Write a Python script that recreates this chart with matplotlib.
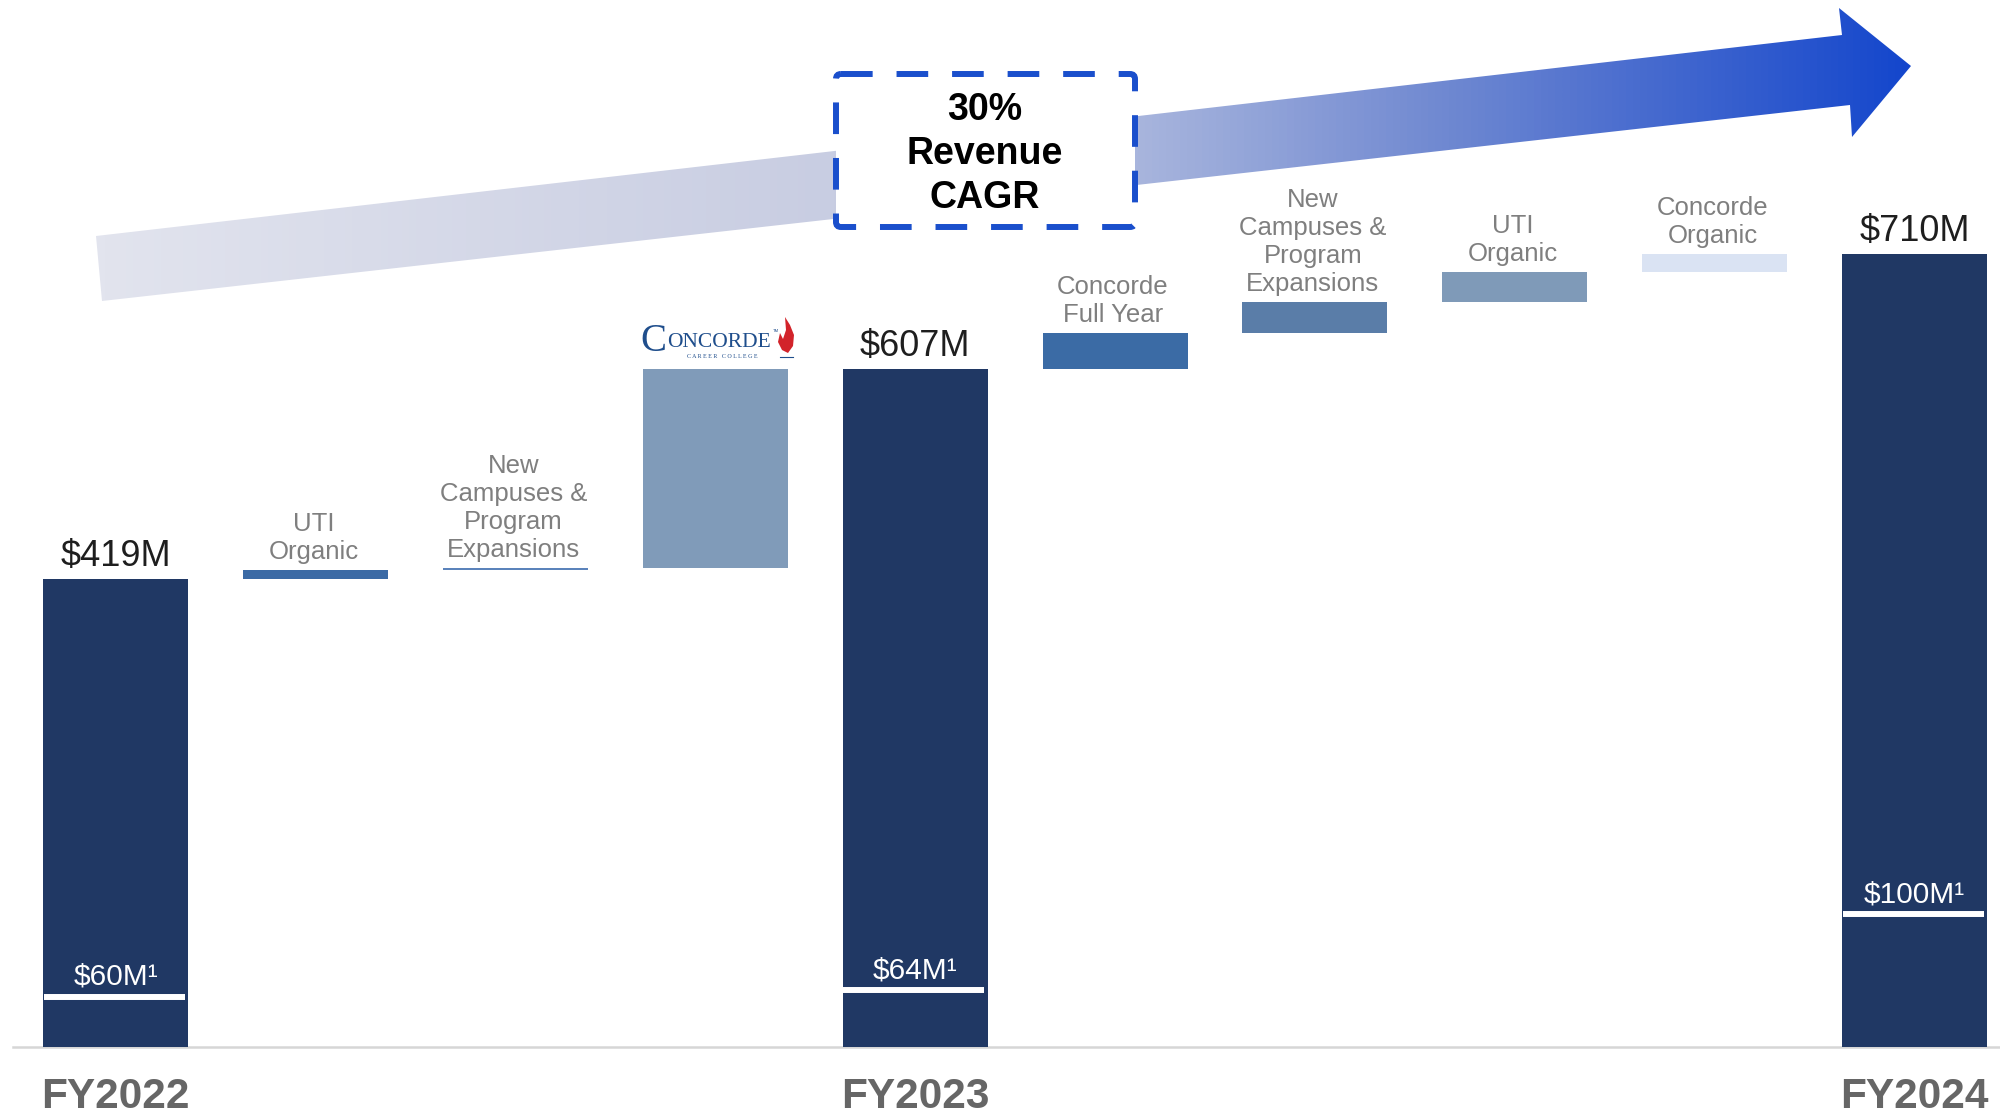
import numpy as np
import matplotlib
matplotlib.use('Agg')
import matplotlib.pyplot as plt
from matplotlib.patches import Polygon, FancyBboxPatch
from matplotlib.colors import LinearSegmentedColormap

plt.rcParams['font.family'] = ['Liberation Sans', 'DejaVu Sans']

# waterfall data ($M)
categories = ['FY2022', 'UTI\nOrganic', 'New\nCampuses &\nProgram\nExpansions', 'Concorde', 'FY2023',
              'Concorde\nFull Year', 'New\nCampuses &\nProgram\nExpansions', 'UTI\nOrganic',
              'Concorde\nOrganic', 'FY2024']
is_total = [True, False, False, False, True, False, False, False, False, True]
values = [419, 8, 2, 178, 607, 32, 28, 27, 16, 710]
bar_colors = ['#203864', '#3b6aa5', '#5b83bb', '#809bb9', '#203864',
              '#3b6ba5', '#5a7da8', '#7f9ab8', '#dae3f3', '#203864']

total_labels = ['$419M', '$607M', '$710M']
sub_labels = ['$60M\u00b9', '$64M\u00b9', '$100M\u00b9']
sub_levels = [45, 51, 119]   # where the white marker sits inside each total bar

# running totals -> bottoms / heights
bottoms, heights = [], []
run = 0
for v, tot in zip(values, is_total):
    if tot:
        bottoms.append(0)
        heights.append(v)
        run = v
    else:
        bottoms.append(run)
        heights.append(v)
        run += v
tops = [b + h for b, h in zip(bottoms, heights)]

fig = plt.figure(figsize=(20, 11.14), dpi=100)
ax = fig.add_axes([0, 0, 1, 1])
ax.set_xlim(-0.578, 9.427)
ax.set_ylim(-60, 937.4)
ax.axis('off')

x = np.arange(len(values))
ax.bar(x, heights, bottom=bottoms, width=0.725, color=bar_colors, zorder=2)
ax.plot([-0.513, 9.427], [0, 0], color='#d6d6d6', lw=1.8, zorder=1)

# labels above the step bars
for i, (lbl, tot) in enumerate(zip(categories, is_total)):
    if tot or lbl == 'Concorde':
        continue
    ax.annotate(lbl, (i, tops[i]), xytext=(-1.5, 4.5), textcoords='offset points',
                ha='center', va='bottom', fontsize=18.5, color='#7f7f7f')

tot_idx = [i for i, t in enumerate(is_total) if t]
for k, i in enumerate(tot_idx):
    ax.annotate(total_labels[k], (i, tops[i]), xytext=(0, 9.5), textcoords='offset points',
                ha='center', va='baseline', fontsize=26, color='#1e1e1e')
    ax.hlines(sub_levels[k], i - 0.36, i + 0.345, color='white', lw=4.3, zorder=3)
    ax.annotate(sub_labels[k], (i, sub_levels[k]), xytext=(0, 8.5), textcoords='offset points',
                ha='center', va='baseline', fontsize=21.5, color='white', zorder=4)
    ax.text(i, -45, categories[i], ha='center', va='center', fontsize=30.5,
            fontweight='bold', color='#666666')

# overlay in pixel coordinates for the arrow, CAGR box and logo
ov = fig.add_axes([0, 0, 1, 1], zorder=5)
ov.patch.set_alpha(0)

arrow_pts = [(96, 236), (1842, 35), (1839, 8), (1911, 66), (1852, 137), (1850, 105), (102, 301)]
stops_x = [96, 830, 1140, 1450, 1911]
stops_c = ['#e2e4ee', '#c8cde2', '#a8b5dd', '#6f88d1', '#1446cc']
cmap = LinearSegmentedColormap.from_list(
    'arr', [((sx - stops_x[0]) / (stops_x[-1] - stops_x[0]), c) for sx, c in zip(stops_x, stops_c)])
grad = np.linspace(0, 1, 512).reshape(1, -1)
im = ov.imshow(grad, cmap=cmap, extent=(96, 1911, 305, 5), aspect='auto', interpolation='bilinear')
clip = Polygon(arrow_pts, closed=True, facecolor='none', edgecolor='none')
ov.add_patch(clip)
im.set_clip_path(clip)

box = FancyBboxPatch((836, 74), 299, 153, boxstyle='round,pad=0,rounding_size=5',
                     facecolor='white', edgecolor='#1a4fcc', lw=4.3,
                     linestyle=(0, (5.3, 4)), zorder=3)
ov.add_patch(box)
for txt, yb in zip(['30%', 'Revenue', 'CAGR'], [120.5, 163.5, 207.5]):
    ov.text(985, yb, txt, ha='center', va='baseline', fontsize=27,
            fontweight='bold', color='black', zorder=4)

# Concorde Career College logo
navy = '#1f4e8c'
ov.text(640, 351, 'C', fontfamily='Liberation Serif', fontsize=28, color=navy,
        ha='left', va='baseline')
ov.text(667, 347, 'ONCORDE', fontfamily='Liberation Serif', fontsize=15.5, color=navy,
        ha='left', va='baseline')
ov.text(722, 358, 'C A R E E R   C O L L E G E', fontfamily='Liberation Serif', fontsize=4.3,
        color=navy, ha='center', va='baseline')
ov.text(773, 332, 'TM', fontsize=3, color=navy, ha='left', va='baseline')
flame = [(785, 317), (790, 325), (794, 335), (793, 346), (788, 353), (782, 350),
         (778, 342), (780, 333), (783, 339), (786, 330)]
ov.add_patch(Polygon(flame, closed=True, facecolor='#d2232a', edgecolor='none'))
ov.plot([780, 793], [356.5, 356.5], color=navy, lw=0.8)

ov.set_xlim(0, 2000)
ov.set_ylim(1114, 0)
ov.axis('off')

fig.savefig('out.png', dpi=100)
